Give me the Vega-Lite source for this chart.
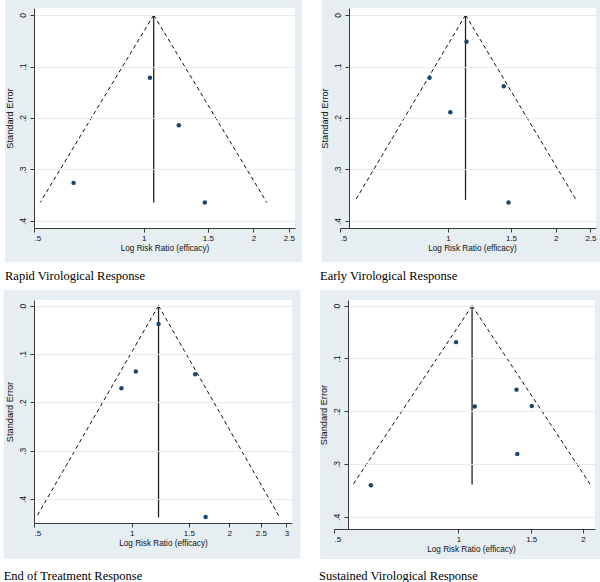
{
  "$schema": "https://vega.github.io/schema/vega-lite/v6.json",
  "background": "white",
  "padding": {"left": 3, "top": 0, "right": 0, "bottom": 0},
  "datasets": {
    "points": [
      {"panel": "RVR", "rr": 1.04, "se": 0.122},
      {"panel": "RVR", "rr": 1.248, "se": 0.214},
      {"panel": "RVR", "rr": 0.642, "se": 0.326},
      {"panel": "RVR", "rr": 1.471, "se": 0.364},
      {"panel": "EVR", "rr": 1.127, "se": 0.052},
      {"panel": "EVR", "rr": 0.889, "se": 0.122},
      {"panel": "EVR", "rr": 1.432, "se": 0.1385},
      {"panel": "EVR", "rr": 1.016, "se": 0.189},
      {"panel": "EVR", "rr": 1.476, "se": 0.364},
      {"panel": "ETR", "rr": 1.21, "se": 0.038},
      {"panel": "ETR", "rr": 1.03, "se": 0.136},
      {"panel": "ETR", "rr": 0.93, "se": 0.171},
      {"panel": "ETR", "rr": 1.57, "se": 0.142},
      {"panel": "ETR", "rr": 1.69, "se": 0.437},
      {"panel": "SVR", "rr": 0.987, "se": 0.069},
      {"panel": "SVR", "rr": 1.382, "se": 0.159},
      {"panel": "SVR", "rr": 1.095, "se": 0.191},
      {"panel": "SVR", "rr": 1.505, "se": 0.19},
      {"panel": "SVR", "rr": 1.388, "se": 0.281},
      {"panel": "SVR", "rr": 0.614, "se": 0.34}
    ],
    "funnel": [
      {"panel": "RVR", "part": "left", "rr": 1.065, "se": 0, "rr2": 0.52, "se2": 0.364},
      {"panel": "RVR", "part": "right", "rr": 1.065, "se": 0, "rr2": 2.175, "se2": 0.364},
      {"panel": "RVR", "part": "center", "rr": 1.065, "se": 0, "rr2": 1.065, "se2": 0.364},
      {"panel": "EVR", "part": "left", "rr": 1.12, "se": 0, "rr2": 0.553, "se2": 0.359},
      {"panel": "EVR", "part": "right", "rr": 1.12, "se": 0, "rr2": 2.28, "se2": 0.359},
      {"panel": "EVR", "part": "center", "rr": 1.12, "se": 0, "rr2": 1.12, "se2": 0.359},
      {"panel": "ETR", "part": "left", "rr": 1.21, "se": 0, "rr2": 0.508, "se2": 0.438},
      {"panel": "ETR", "part": "right", "rr": 1.21, "se": 0, "rr2": 2.86, "se2": 0.438},
      {"panel": "ETR", "part": "center", "rr": 1.21, "se": 0, "rr2": 1.21, "se2": 0.438},
      {"panel": "SVR", "part": "left", "rr": 1.079, "se": 0, "rr2": 0.556, "se2": 0.3386},
      {"panel": "SVR", "part": "right", "rr": 1.079, "se": 0, "rr2": 2.085, "se2": 0.3386},
      {"panel": "SVR", "part": "center", "rr": 1.079, "se": 0, "rr2": 1.079, "se2": 0.3386}
    ],
    "regions": [
      {"panel": "RVR", "region": "graph", "rr_lo": 0.4163, "rr_hi": 2.7175, "se_lo": -0.0291, "se_hi": 0.4796},
      {"panel": "RVR", "region": "plot", "rr_lo": 0.5, "rr_hi": 2.6, "se_lo": -0.0136, "se_hi": 0.4136},
      {"panel": "EVR", "region": "graph", "rr_lo": 0.4439, "rr_hi": 2.7145, "se_lo": -0.0291, "se_hi": 0.4796},
      {"panel": "EVR", "region": "plot", "rr_lo": 0.53, "rr_hi": 2.59, "se_lo": -0.0136, "se_hi": 0.4136},
      {"panel": "ETR", "region": "graph", "rr_lo": 0.4033, "rr_hi": 3.309, "se_lo": -0.0325, "se_hi": 0.5235},
      {"panel": "ETR", "region": "plot", "rr_lo": 0.5, "rr_hi": 3.12, "se_lo": -0.0118, "se_hi": 0.4496},
      {"panel": "SVR", "region": "graph", "rr_lo": 0.4625, "rr_hi": 2.225, "se_lo": -0.0297, "se_hi": 0.4798},
      {"panel": "SVR", "region": "plot", "rr_lo": 0.543, "rr_hi": 2.14, "se_lo": -0.0108, "se_hi": 0.423}
    ]
  },
  "config": {
    "view": {"stroke": null},
    "axis": {
      "domainColor": "#3a3a3a",
      "domainWidth": 1,
      "tickColor": "#3a3a3a",
      "tickSize": 4,
      "tickWidth": 1,
      "labelFont": "Liberation Sans",
      "labelColor": "#111111",
      "titleFont": "Liberation Sans",
      "titleFontWeight": "normal",
      "titleColor": "#111111",
      "gridColor": "#e4ecef",
      "gridWidth": 1,
      "labelExpr": "replace(format(datum.value, '~g'), '0.', '.')"
    },
    "axisX": {"grid": false, "labelPadding": 2, "titlePadding": 2, "labelFontSize": 8, "titleFontSize": 8.2},
    "axisY": {"grid": true, "labelAngle": -90, "labelPadding": 3, "titlePadding": 4, "labelFontSize": 8.5, "titleFontSize": 9.2},
    "title": {
      "orient": "bottom",
      "anchor": "start",
      "frame": "bounds",
      "font": "Liberation Serif",
      "fontSize": 12.5,
      "fontWeight": "normal",
      "color": "#000000",
      "offset": 8
    }
  },
  "spacing": 6,
  "vconcat": [
    {
      "spacing": 18,
      "hconcat": [
        {
          "width": 261, "height": 220,
          "title": "Rapid Virological Response",
          "encoding": {
            "x": {"field": "rr", "type": "quantitative", "scale": {"type": "log", "domain": [0.5, 2.6], "nice": false, "zero": false}, "axis": {"title": "Log Risk Ratio (efficacy)", "values": [0.5, 1, 1.5, 2, 2.5], "zindex": 1}},
            "y": {"field": "se", "type": "quantitative", "scale": {"domain": [-0.0136, 0.4136], "reverse": true, "nice": false, "zero": false}, "axis": {"title": "Standard Error", "values": [0, 0.1, 0.2, 0.3, 0.4], "zindex": 1}}
          },
          "layer": [
            {"data": {"name": "regions"}, "transform": [{"filter": "datum.panel == 'RVR' && datum.region == 'graph'"}],
             "mark": {"type": "rect", "color": "#e6eef1", "clip": false},
             "encoding": {"x": {"field": "rr_lo", "type": "quantitative"}, "x2": {"field": "rr_hi"}, "y": {"field": "se_lo", "type": "quantitative"}, "y2": {"field": "se_hi"}}},
            {"data": {"name": "regions"}, "transform": [{"filter": "datum.panel == 'RVR' && datum.region == 'plot'"}],
             "mark": {"type": "rect", "color": "#ffffff"},
             "encoding": {"x": {"field": "rr_lo", "type": "quantitative"}, "x2": {"field": "rr_hi"}, "y": {"field": "se_lo", "type": "quantitative"}, "y2": {"field": "se_hi"}}},
            {"data": {"name": "funnel"}, "transform": [{"filter": "datum.panel == 'RVR' && datum.part != 'center'"}],
             "mark": {"type": "rule", "strokeDash": [4, 3], "color": "#111111", "strokeWidth": 1},
             "encoding": {"x2": {"field": "rr2"}, "y2": {"field": "se2"}}},
            {"data": {"name": "funnel"}, "transform": [{"filter": "datum.panel == 'RVR' && datum.part == 'center'"}],
             "mark": {"type": "rule", "color": "#222222", "strokeWidth": 1.3},
             "encoding": {"x2": {"field": "rr2"}, "y2": {"field": "se2"}}},
            {"data": {"name": "points"}, "transform": [{"filter": "datum.panel == 'RVR'"}],
             "mark": {"type": "circle", "size": 20, "opacity": 1, "color": "#1a476f"}}
          ]
        },
        {
          "width": 256, "height": 220,
          "title": "Early Virological Response",
          "encoding": {
            "x": {"field": "rr", "type": "quantitative", "scale": {"type": "log", "domain": [0.5, 2.59], "nice": false, "zero": false}, "axis": {"title": "Log Risk Ratio (efficacy)", "values": [0.5, 1, 1.5, 2, 2.5], "zindex": 1, "titleX": 132}},
            "y": {"field": "se", "type": "quantitative", "scale": {"domain": [-0.0136, 0.4136], "reverse": true, "nice": false, "zero": false}, "axis": {"title": "Standard Error", "values": [0, 0.1, 0.2, 0.3, 0.4], "zindex": 1, "offset": -9}}
          },
          "layer": [
            {"data": {"name": "regions"}, "transform": [{"filter": "datum.panel == 'EVR' && datum.region == 'graph'"}],
             "mark": {"type": "rect", "color": "#e6eef1", "clip": false},
             "encoding": {"x": {"field": "rr_lo", "type": "quantitative"}, "x2": {"field": "rr_hi"}, "y": {"field": "se_lo", "type": "quantitative"}, "y2": {"field": "se_hi"}}},
            {"data": {"name": "regions"}, "transform": [{"filter": "datum.panel == 'EVR' && datum.region == 'plot'"}],
             "mark": {"type": "rect", "color": "#ffffff"},
             "encoding": {"x": {"field": "rr_lo", "type": "quantitative"}, "x2": {"field": "rr_hi"}, "y": {"field": "se_lo", "type": "quantitative"}, "y2": {"field": "se_hi"}}},
            {"data": {"name": "funnel"}, "transform": [{"filter": "datum.panel == 'EVR' && datum.part != 'center'"}],
             "mark": {"type": "rule", "strokeDash": [4, 3], "color": "#111111", "strokeWidth": 1},
             "encoding": {"x2": {"field": "rr2"}, "y2": {"field": "se2"}}},
            {"data": {"name": "funnel"}, "transform": [{"filter": "datum.panel == 'EVR' && datum.part == 'center'"}],
             "mark": {"type": "rule", "color": "#222222", "strokeWidth": 1.3},
             "encoding": {"x2": {"field": "rr2"}, "y2": {"field": "se2"}}},
            {"data": {"name": "points"}, "transform": [{"filter": "datum.panel == 'EVR'"}],
             "mark": {"type": "circle", "size": 20, "opacity": 1, "color": "#1a476f"}}
          ]
        }
      ]
    },
    {
      "spacing": 18,
      "hconcat": [
        {
          "width": 258, "height": 223,
          "title": {"text": "End of Treatment Response", "offset": 11},
          "encoding": {
            "x": {"field": "rr", "type": "quantitative", "scale": {"type": "log", "domain": [0.5, 3.12], "nice": false, "zero": false}, "axis": {"title": "Log Risk Ratio (efficacy)", "values": [0.5, 1, 1.5, 2, 2.5, 3], "zindex": 1}},
            "y": {"field": "se", "type": "quantitative", "scale": {"domain": [-0.0118, 0.4496], "reverse": true, "nice": false, "zero": false}, "axis": {"title": "Standard Error", "values": [0, 0.1, 0.2, 0.3, 0.4], "zindex": 1}}
          },
          "layer": [
            {"data": {"name": "regions"}, "transform": [{"filter": "datum.panel == 'ETR' && datum.region == 'graph'"}],
             "mark": {"type": "rect", "color": "#e6eef1", "clip": false},
             "encoding": {"x": {"field": "rr_lo", "type": "quantitative"}, "x2": {"field": "rr_hi"}, "y": {"field": "se_lo", "type": "quantitative"}, "y2": {"field": "se_hi"}}},
            {"data": {"name": "regions"}, "transform": [{"filter": "datum.panel == 'ETR' && datum.region == 'plot'"}],
             "mark": {"type": "rect", "color": "#ffffff"},
             "encoding": {"x": {"field": "rr_lo", "type": "quantitative"}, "x2": {"field": "rr_hi"}, "y": {"field": "se_lo", "type": "quantitative"}, "y2": {"field": "se_hi"}}},
            {"data": {"name": "funnel"}, "transform": [{"filter": "datum.panel == 'ETR' && datum.part != 'center'"}],
             "mark": {"type": "rule", "strokeDash": [4, 3], "color": "#111111", "strokeWidth": 1},
             "encoding": {"x2": {"field": "rr2"}, "y2": {"field": "se2"}}},
            {"data": {"name": "funnel"}, "transform": [{"filter": "datum.panel == 'ETR' && datum.part == 'center'"}],
             "mark": {"type": "rule", "color": "#222222", "strokeWidth": 1.3},
             "encoding": {"x2": {"field": "rr2"}, "y2": {"field": "se2"}}},
            {"data": {"name": "points"}, "transform": [{"filter": "datum.panel == 'ETR'"}],
             "mark": {"type": "circle", "size": 20, "opacity": 1, "color": "#1a476f"}}
          ]
        },
        {
          "width": 261, "height": 229,
          "title": {"text": "Sustained Virological Response", "offset": 11},
          "encoding": {
            "x": {"field": "rr", "type": "quantitative", "scale": {"type": "log", "domain": [0.5, 2.14], "nice": false, "zero": false}, "axis": {"title": "Log Risk Ratio (efficacy)", "values": [0.5, 1, 1.5, 2], "zindex": 1, "titleX": 137}},
            "y": {"field": "se", "type": "quantitative", "scale": {"domain": [-0.0108, 0.423], "reverse": true, "nice": false, "zero": false}, "axis": {"title": "Standard Error", "values": [0, 0.1, 0.2, 0.3, 0.4], "zindex": 1, "offset": -14}}
          },
          "layer": [
            {"data": {"name": "regions"}, "transform": [{"filter": "datum.panel == 'SVR' && datum.region == 'graph'"}],
             "mark": {"type": "rect", "color": "#e6eef1", "clip": false},
             "encoding": {"x": {"field": "rr_lo", "type": "quantitative"}, "x2": {"field": "rr_hi"}, "y": {"field": "se_lo", "type": "quantitative"}, "y2": {"field": "se_hi"}}},
            {"data": {"name": "regions"}, "transform": [{"filter": "datum.panel == 'SVR' && datum.region == 'plot'"}],
             "mark": {"type": "rect", "color": "#ffffff"},
             "encoding": {"x": {"field": "rr_lo", "type": "quantitative"}, "x2": {"field": "rr_hi"}, "y": {"field": "se_lo", "type": "quantitative"}, "y2": {"field": "se_hi"}}},
            {"data": {"name": "funnel"}, "transform": [{"filter": "datum.panel == 'SVR' && datum.part != 'center'"}],
             "mark": {"type": "rule", "strokeDash": [4, 3], "color": "#111111", "strokeWidth": 1},
             "encoding": {"x2": {"field": "rr2"}, "y2": {"field": "se2"}}},
            {"data": {"name": "funnel"}, "transform": [{"filter": "datum.panel == 'SVR' && datum.part == 'center'"}],
             "mark": {"type": "rule", "color": "#222222", "strokeWidth": 1.3},
             "encoding": {"x2": {"field": "rr2"}, "y2": {"field": "se2"}}},
            {"data": {"name": "points"}, "transform": [{"filter": "datum.panel == 'SVR'"}],
             "mark": {"type": "circle", "size": 20, "opacity": 1, "color": "#1a476f"}}
          ]
        }
      ]
    }
  ]
}
